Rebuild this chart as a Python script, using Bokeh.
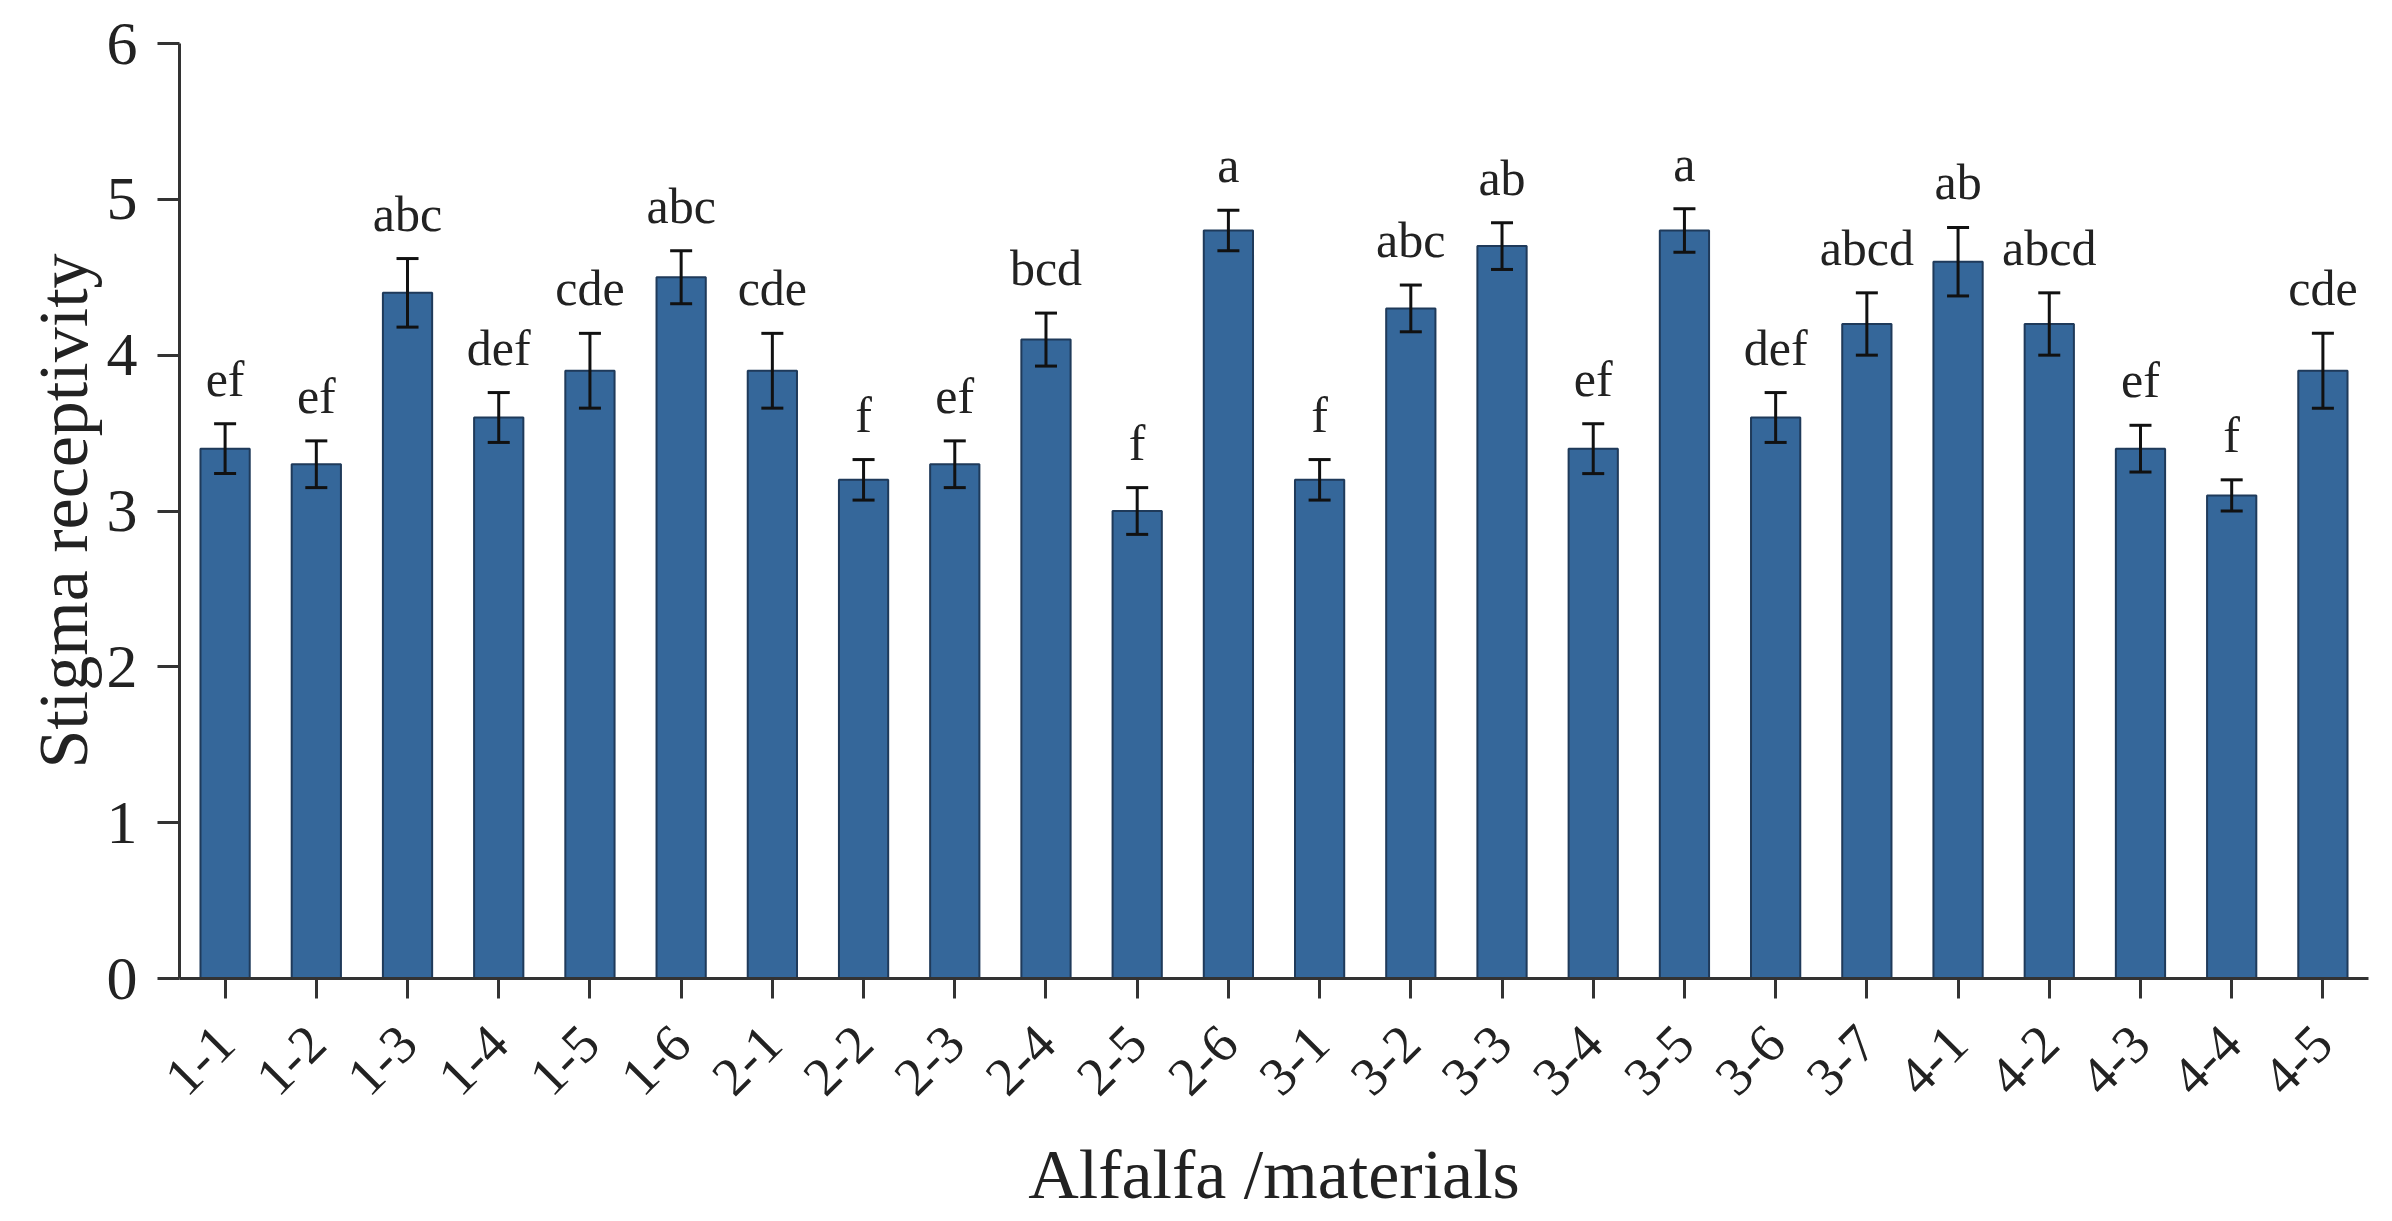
from math import pi
from bokeh.plotting import figure
from bokeh.models import ColumnDataSource, FactorRange, Range1d, Whisker, TeeHead, LabelSet, FixedTicker
from bokeh.embed import file_html
from bokeh.resources import INLINE

materials = ["1-1", "1-2", "1-3", "1-4", "1-5", "1-6",
             "2-1", "2-2", "2-3", "2-4", "2-5", "2-6",
             "3-1", "3-2", "3-3", "3-4", "3-5", "3-6", "3-7",
             "4-1", "4-2", "4-3", "4-4", "4-5"]
receptivity = [3.4, 3.3, 4.4, 3.6, 3.9, 4.5,
               3.9, 3.2, 3.3, 4.1, 3.0, 4.8,
               3.2, 4.3, 4.7, 3.4, 4.8, 3.6, 4.2,
               4.6, 4.2, 3.4, 3.1, 3.9]
errors = [0.16, 0.15, 0.22, 0.16, 0.24, 0.17,
          0.24, 0.13, 0.15, 0.17, 0.15, 0.13,
          0.13, 0.15, 0.15, 0.16, 0.14, 0.16, 0.2,
          0.22, 0.2, 0.15, 0.1, 0.24]
letters = ["ef", "ef", "abc", "def", "cde", "abc",
           "cde", "f", "ef", "bcd", "f", "a",
           "f", "abc", "ab", "ef", "a", "def", "abcd",
           "ab", "abcd", "ef", "f", "cde"]
y_ticks = [0, 1, 2, 3, 4, 5, 6]

src = ColumnDataSource(dict(
    cat=materials,
    val=receptivity,
    upper=[v + e for v, e in zip(receptivity, errors)],
    lower=[v - e for v, e in zip(receptivity, errors)],
    lab=letters,
))

FONT = "Liberation Serif"
TXT = "#222222"

p = figure(x_range=FactorRange(factors=materials, range_padding=0),
           y_range=Range1d(0, 6),
           frame_width=2189, frame_height=935,
           min_border_left=179, min_border_top=43, min_border_right=16, min_border_bottom=200,
           output_backend="svg", toolbar_location=None)
p.outline_line_color = None
p.xgrid.grid_line_color = None
p.ygrid.grid_line_color = None
p.background_fill_color = "white"

p.vbar(x="cat", top="val", width=0.54, source=src,
       fill_color="#35679a", line_color="#1f3a5a", line_width=2)

wh = Whisker(base="cat", upper="upper", lower="lower", source=src,
             level="overlay",
             line_color="#111111", line_width=3,
             upper_head=TeeHead(size=22, line_width=3, line_color="#111111"),
             lower_head=TeeHead(size=22, line_width=3, line_color="#111111"))
p.add_layout(wh)

labels = LabelSet(x="cat", y="upper", text="lab", source=src,
                  y_offset=28, text_align="center", text_baseline="alphabetic",
                  text_font=FONT, text_font_size="50px", text_color=TXT)
p.add_layout(labels)

for ax in (p.xaxis[0], p.yaxis[0]):
    ax.axis_line_width = 3
    ax.axis_line_color = "#333333"
    ax.major_tick_line_width = 3
    ax.major_tick_line_color = "#333333"
    ax.minor_tick_line_color = None
    ax.major_tick_in = 0
    ax.major_label_text_font = FONT
    ax.major_label_text_color = TXT
    ax.axis_label_text_font = FONT
    ax.axis_label_text_font_style = "normal"
    ax.axis_label_text_color = TXT
    ax.axis_label_text_font_size = "70px"

p.yaxis.ticker = FixedTicker(ticks=y_ticks)
p.yaxis.major_tick_out = 22
p.yaxis.major_label_standoff = 20
p.yaxis.major_label_text_font_size = "62px"
p.yaxis.axis_label = "Stigma receptivity"
p.yaxis.axis_label_standoff = 2

p.xaxis.major_tick_out = 20
p.xaxis.major_label_standoff = 36
p.xaxis.major_label_text_font_size = "54px"
p.xaxis.major_label_orientation = pi / 4
p.xaxis.axis_label = "Alfalfa /materials"
p.xaxis.axis_label_standoff = 22

open("out.html", "w").write(file_html(p, INLINE))
